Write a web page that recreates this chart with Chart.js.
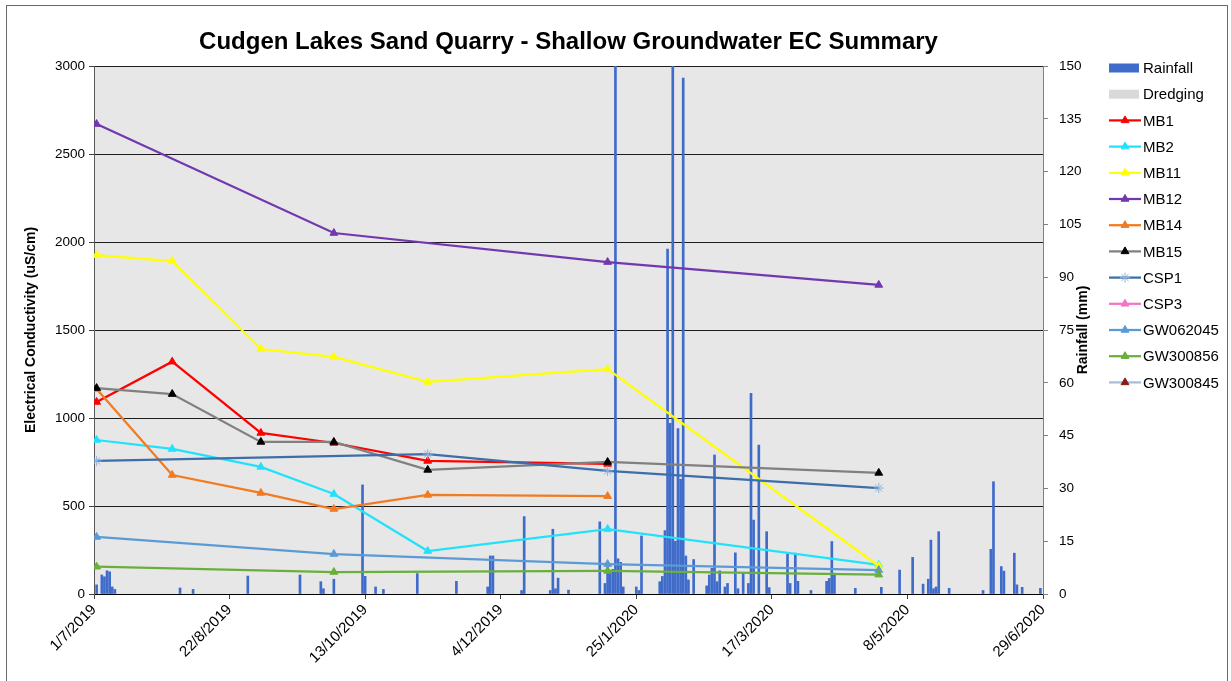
<!DOCTYPE html>
<html>
<head>
<meta charset="utf-8">
<title>Cudgen Lakes Sand Quarry - Shallow Groundwater EC Summary</title>
<script src="https://cdn.jsdelivr.net/npm/chart.js@4/dist/chart.umd.min.js"></script>
<style>
  html, body { margin: 0; padding: 0; background: #fff; }
  canvas { display: block; }
</style>
</head>
<body>
<canvas id="chart" width="1231" height="681"></canvas>
<script>
// ---- data -------------------------------------------------------------
const chartTitle = 'Cudgen Lakes Sand Quarry - Shallow Groundwater EC Summary';
const leftAxisTitle = 'Electrical Conductivity (uS/cm)';
const rightAxisTitle = 'Rainfall (mm)';

// axis origin for the date scale (days are counted from here)
const axisStart = '2019-07-01';
const axisEnd = '2020-06-29';
const xTickStepDays = 52;
const xTickLabels = ['1/7/2019', '22/8/2019', '13/10/2019', '4/12/2019', '25/1/2020', '17/3/2020', '8/5/2020', '29/6/2020'];

// monitoring round dates
const sampleDates = ['2019-07-02', '2019-07-31', '2019-09-03', '2019-10-01', '2019-11-06', '2020-01-14', '2020-04-27'];

// EC (uS/cm) per monitoring round, null = not sampled
const mb1      = [1091, 1320, 915, 858, 756, 739, null];
const mb2      = [875, 824, 722, 568, 244, 369, 165];
const mb11     = [1925, 1892, 1392, 1347, 1205, 1278, 159];
const mb12     = [2670, null, null, 2051, null, 1886, 1756];
const mb14     = [1165, 676, 574, 483, 563, 556, null];
const mb15     = [1170, 1136, 864, 864, 705, 750, 688];
const csp1     = [756, null, null, null, 795, 699, 602];
const csp3     = [null, null, null, null, null, null, null];
const gw062045 = [324, null, null, 227, null, 170, 136];
const gw300856 = [155, null, null, 125, null, 131, 110];
const gw300845 = [null, null, null, null, null, null, null];

// daily rainfall (mm), day = days after 1/7/2019
const rainDay = [1, 3, 4, 5, 6, 7, 8, 33, 38, 59, 79, 87, 88, 92, 103, 104, 108, 111, 124, 139,
  151, 152, 153, 164, 165, 175, 176, 177, 178, 182, 194, 196, 197, 198, 199, 200, 201, 202, 203,
  208, 209, 210, 217, 218, 219, 220, 221, 222, 223, 224, 225, 226, 227, 228, 230, 235, 236, 237,
  238, 239, 240, 242, 243, 246, 247, 249, 251, 252, 253, 255, 258, 259, 266, 267, 269, 270, 275,
  281, 282, 283, 284, 292, 302, 309, 314, 318, 320, 321, 322, 323, 324, 328, 341, 344, 345, 348,
  349, 353, 354, 356, 363];
const rainMm = [2.6, 5.4, 4.9, 6.6, 6.3, 2.0, 1.3, 1.7, 1.3, 5.1, 5.4, 3.5, 1.5, 4.2, 31, 5, 2, 1.3, 5.8, 3.6,
  2, 10.8, 10.8, 1, 22, 1, 18.4, 1.5, 4.5, 1.1, 20.5, 3, 8, 6, 7, 162, 10, 9, 2,
  2, 1, 16.5, 3.5, 5, 18, 98, 48.5, 162, 15, 47, 32.6, 146.6, 10.8, 4, 9.8, 2.3, 5.4, 7.3,
  39.5, 3.5, 6.6, 2, 3, 11.7, 1.5, 5.9, 3, 57, 21, 42.3, 17.7, 1.8, 11.4, 3, 11.6, 3.6, 1,
  3.6, 4.4, 14.9, 5.9, 1.6, 1.9, 6.8, 10.4, 2.8, 4.2, 15.3, 1.5, 2, 17.7, 1.6, 1, 12.7, 31.9, 7.8,
  6.5, 11.6, 2.6, 1.9, 1.6];

// ---- helpers ----------------------------------------------------------
const DAY_MS = 86400000;
const dayOf = s => Math.round((Date.parse(s + 'T00:00:00Z') - Date.parse(axisStart + 'T00:00:00Z')) / DAY_MS);
const sampleDays = sampleDates.map(dayOf);
const toPoints = vals => vals.map((v, i) => ({ x: sampleDays[i], y: v })).filter(p => p.y !== null);

const FONT = '"Liberation Sans", Arial, sans-serif';

let seriesCount = 0;
function lineSeries(label, values, color, opts = {}) {
  seriesCount += 1;
  return Object.assign({
    type: 'line',
    label,
    data: toPoints(values),
    yAxisID: 'y',
    borderColor: color,
    backgroundColor: color,
    borderWidth: 2.25,
    pointStyle: 'triangle',
    pointRadius: 4.5,
    pointBorderWidth: 1,
    pointBackgroundColor: color,
    pointBorderColor: color,
    tension: 0,
    fill: false,
    // later series are painted over earlier ones
    order: -seriesCount
  }, opts);
}

const datasets = [
  {
    type: 'bar', label: 'Rainfall', yAxisID: 'y2',
    data: rainDay.map((d, i) => ({ x: d, y: rainMm[i] })),
    backgroundColor: '#3f6bcb', borderWidth: 0, barThickness: 2, grouped: false, order: 100
  },
  {
    type: 'bar', label: 'Dredging', yAxisID: 'y2', data: [],
    backgroundColor: '#d9d9d9', borderWidth: 0, barThickness: 2, grouped: false, order: 101
  },
  lineSeries('MB1', mb1, '#ff0000'),
  lineSeries('MB2', mb2, '#22e2fb'),
  lineSeries('MB11', mb11, '#ffff00'),
  lineSeries('MB12', mb12, '#7238b0'),
  lineSeries('MB14', mb14, '#f27b22'),
  lineSeries('MB15', mb15, '#808080', { pointBackgroundColor: '#000000', pointBorderColor: '#000000' }),
  lineSeries('CSP1', csp1, '#3c6ea9', { pointStyle: 'star', pointRadius: 5, pointBorderColor: '#8fb2dc', pointBackgroundColor: '#8fb2dc' }),
  lineSeries('CSP3', csp3, '#f472c8'),
  lineSeries('GW062045', gw062045, '#5b9bd5'),
  lineSeries('GW300856', gw300856, '#6aaf3c'),
  lineSeries('GW300845', gw300845, '#a9bcd8', { pointBackgroundColor: '#8b1a1a', pointBorderColor: '#8b1a1a' })
];

// ---- custom drawing: background, frame, titles and legend --------------
function drawMarker(ctx, style, x, y, r, fill, stroke) {
  ctx.save();
  ctx.fillStyle = fill;
  ctx.strokeStyle = stroke;
  ctx.lineWidth = 1;
  ctx.beginPath();
  if (style === 'star') {
    for (let k = 0; k < 4; k++) {
      const a = k * Math.PI / 4;
      ctx.moveTo(x + Math.cos(a) * r, y + Math.sin(a) * r);
      ctx.lineTo(x - Math.cos(a) * r, y - Math.sin(a) * r);
    }
    ctx.stroke();
  } else {
    let a = 0;
    ctx.moveTo(x + Math.sin(a) * r, y - Math.cos(a) * r);
    for (let k = 0; k < 2; k++) {
      a += 2 * Math.PI / 3;
      ctx.lineTo(x + Math.sin(a) * r, y - Math.cos(a) * r);
    }
    ctx.closePath();
    ctx.fill();
    ctx.stroke();
  }
  ctx.restore();
}

const chartDecor = {
  id: 'chartDecor',
  beforeDraw(chart) {
    const { ctx, chartArea: a } = chart;
    ctx.save();
    ctx.fillStyle = '#ffffff';
    ctx.fillRect(0, 0, chart.width, chart.height);
    ctx.fillStyle = '#e7e7e7';
    ctx.fillRect(a.left, a.top, a.right - a.left, a.bottom - a.top);
    ctx.strokeStyle = '#6a6a6a';
    ctx.lineWidth = 1;
    ctx.strokeRect(6.5, 5.5, 1221, 720);
    ctx.restore();
  },
  afterDraw(chart) {
    const { ctx, chartArea: a } = chart;
    ctx.save();
    ctx.fillStyle = '#000';
    // chart title
    ctx.font = 'bold 24px ' + FONT;
    ctx.textAlign = 'center';
    ctx.textBaseline = 'middle';
    ctx.fillText(chartTitle, (a.left + a.right) / 2, 42);
    // axis titles
    ctx.font = 'bold 14px ' + FONT;
    const midY = (a.top + a.bottom) / 2;
    ctx.save();
    ctx.translate(31, midY);
    ctx.rotate(-Math.PI / 2);
    ctx.fillText(leftAxisTitle, 0, 0);
    ctx.restore();
    ctx.save();
    ctx.translate(1083, midY);
    ctx.rotate(-Math.PI / 2);
    ctx.fillText(rightAxisTitle, 0, 0);
    ctx.restore();

    // legend
    const lx = 1109, lw = 32, tx = 1143;
    ctx.font = '15px ' + FONT;
    ctx.textAlign = 'left';
    chart.data.datasets.forEach((ds, i) => {
      const y = 68 + i * 26.2;
      if (ds.type === 'bar') {
        ctx.fillStyle = ds.backgroundColor;
        ctx.fillRect(lx, y - 4.5, lw - 2, 9);
      } else {
        ctx.strokeStyle = ds.borderColor;
        ctx.lineWidth = 2.25;
        ctx.beginPath();
        ctx.moveTo(lx, y);
        ctx.lineTo(lx + lw, y);
        ctx.stroke();
        drawMarker(ctx, ds.pointStyle, lx + lw / 2, y, ds.pointStyle === 'star' ? 5 : 4.5,
          ds.pointBackgroundColor, ds.pointBorderColor);
      }
      ctx.fillStyle = '#000';
      ctx.fillText(ds.label, tx, y + 1);
    });
    ctx.restore();
  }
};

// ---- chart --------------------------------------------------------------
const tickFont = { family: FONT, size: 13.5 };
const dateFont = { family: FONT, size: 15 };
const xMax = dayOf(axisEnd);

new Chart(document.getElementById('chart'), {
  type: 'bar',
  data: { datasets },
  plugins: [chartDecor],
  options: {
    responsive: false,
    animation: false,
    devicePixelRatio: 1,
    layout: { padding: { top: 66, right: 128, left: 0, bottom: 0 } },
    plugins: { legend: { display: false }, tooltip: { enabled: false }, title: { display: false } },
    scales: {
      x: {
        type: 'linear', position: 'bottom', min: 0, max: xMax, offset: false,
        afterFit: s => { s.height = 87; },
        ticks: {
          stepSize: xTickStepDays, autoSkip: false, maxRotation: 45, minRotation: 45,
          color: '#000', font: dateFont, padding: 2,
          callback: v => xTickLabels[Math.round(v / xTickStepDays)] ?? ''
        },
        grid: { offset: false, drawOnChartArea: false, drawTicks: true, tickLength: 5, tickColor: '#404040' },
        border: { color: '#000000', width: 1 }
      },
      y: {
        type: 'linear', position: 'left', min: 0, max: 3000,
        afterFit: s => { s.width = 94; },
        ticks: { stepSize: 500, color: '#000', font: tickFont, padding: 4, callback: v => String(v) },
        grid: { color: '#1e1e1e', lineWidth: 1, drawTicks: true, tickLength: 5, tickColor: '#404040' },
        border: { color: '#595959', width: 1 }
      },
      y2: {
        type: 'linear', position: 'right', min: 0, max: 150,
        afterFit: s => { s.width = 60; },
        ticks: { stepSize: 15, color: '#000', font: tickFont, padding: 11, callback: v => String(v) },
        grid: { drawOnChartArea: false, drawTicks: true, tickLength: 5, tickColor: '#808080' },
        border: { color: '#808080', width: 1 }
      }
    }
  }
});
</script>
</body>
</html>
